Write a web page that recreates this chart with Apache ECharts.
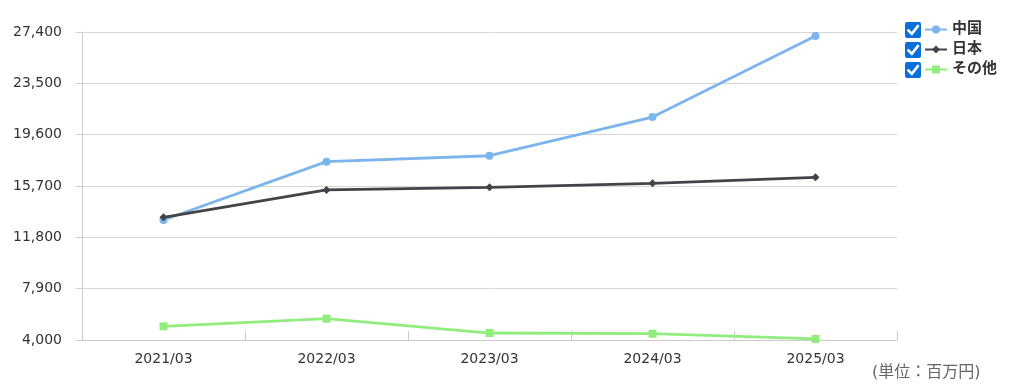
<!DOCTYPE html>
<html>
<head>
<meta charset="utf-8">
<script src="https://cdn.jsdelivr.net/npm/echarts@6/dist/echarts.min.js"></script>
<style>html,body{margin:0;padding:0;background:#fff}#chart{width:1024px;height:387px}</style>
</head>
<body>
<div id="chart"></div>
<script>
const categories = ['2021/03', '2022/03', '2023/03', '2024/03', '2025/03'];
const seriesNames = ['中国', '日本', 'その他'];
const chinaValues = [13120, 17550, 18000, 20940, 27100];
const japanValues = [13320, 15400, 15600, 15900, 16360];
const otherValues = [5040, 5620, 4530, 4480, 4080];
const yTicks = [4000, 7900, 11800, 15700, 19600, 23500, 27400];
const unitLabel = '(単位：百万円)';

const FONT = '"DejaVu Sans", "Noto Sans CJK JP", sans-serif';
const colors = ['#7cb5ec', '#434348', '#90ed7d'];

const chart = echarts.init(document.getElementById('chart'), null, {renderer: 'canvas'});

function checkbox(top) {
  return {
    type: 'group', left: 905, top: top,
    children: [
      {type: 'rect', shape: {x: 0, y: 0, width: 16, height: 16, r: 2}, style: {fill: '#0a6fd8'}},
      {type: 'polyline', shape: {points: [[3.5, 8.5], [6.8, 11.8], [12.8, 4.2]]},
        style: {stroke: '#fff', lineWidth: 2.6, fill: null, lineCap: 'square'}}
    ]
  };
}

chart.setOption({
  animation: false,
  textStyle: {fontFamily: FONT},
  color: colors,
  grid: {left: 82, right: 127, top: 32, bottom: 47, containLabel: false},
  legend: {
    orient: 'vertical', left: 924, top: 22, padding: 0,
    itemWidth: 22, itemHeight: 10, itemGap: 5,
    data: seriesNames,
    textStyle: {fontFamily: FONT, fontSize: 15, fontWeight: 'bold', color: '#333'}
  },
  xAxis: {
    type: 'category', data: categories, boundaryGap: true,
    axisLine: {show: true, lineStyle: {color: '#ccc', width: 1}},
    axisTick: {show: true, inside: true, length: 9, lineStyle: {color: '#ccc'}},
    axisLabel: {fontSize: 14, color: '#333', margin: 12, fontFamily: FONT},
    splitLine: {show: false}
  },
  yAxis: {
    type: 'value', min: yTicks[0], max: yTicks[yTicks.length - 1],
    axisLine: {show: true, lineStyle: {color: '#ccc', width: 1}},
    axisTick: {show: true, length: 6, lineStyle: {color: '#ccc'}, customValues: yTicks},
    axisLabel: {fontSize: 14, color: '#333', margin: 20, fontFamily: FONT, customValues: yTicks,
      formatter: v => v.toLocaleString('en-US')},
    splitLine: {show: true, lineStyle: {color: '#d6d6d6', width: 1}}
  },
  series: [
    {name: seriesNames[0], type: 'line', data: chinaValues, symbol: 'circle', symbolSize: 8,
      lineStyle: {width: 2.8, color: colors[0]}, itemStyle: {color: colors[0]}},
    {name: seriesNames[1], type: 'line', data: japanValues, symbol: 'diamond', symbolSize: 8,
      lineStyle: {width: 2.8, color: colors[1]}, itemStyle: {color: colors[1]}},
    {name: seriesNames[2], type: 'line', data: otherValues, symbol: 'rect', symbolSize: 8,
      lineStyle: {width: 2.8, color: colors[2]}, itemStyle: {color: colors[2]}}
  ],
  graphic: [
    checkbox(22), checkbox(42), checkbox(62),
    {type: 'text', left: 872, top: 365,
      style: {text: unitLabel, fontSize: 16, fill: '#666', fontFamily: FONT}}
  ]
});
</script>
</body>
</html>
